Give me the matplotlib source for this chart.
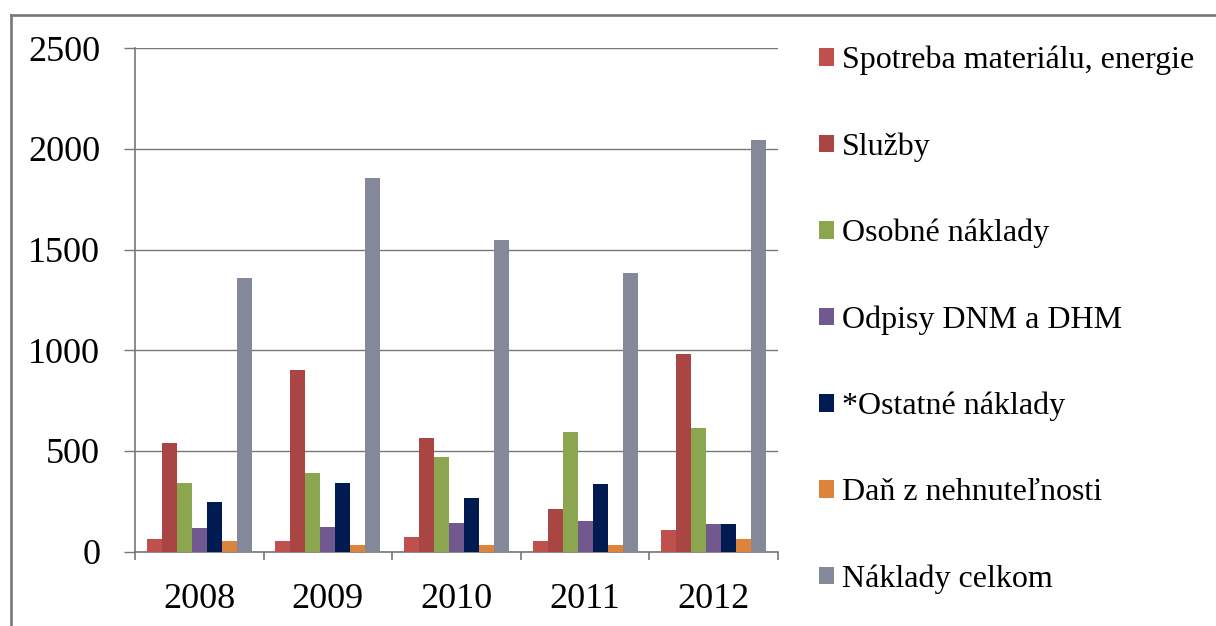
import matplotlib
matplotlib.use('Agg')
import matplotlib.pyplot as plt
import numpy as np
from matplotlib.lines import Line2D

plt.rcParams['font.family'] = ['Liberation Serif', 'DejaVu Serif']

# hodnoty odčítané z grafu
years = ['2008', '2009', '2010', '2011', '2012']
spotreba = [62, 52, 72, 52, 107]
sluzby = [539, 902, 564, 211, 981]
osobne = [340, 390, 470, 594, 614]
odpisy = [117, 122, 142, 152, 137]
ostatne = [246, 340, 266, 335, 137]
dan = [52, 32, 32, 32, 62]
celkom = [1359, 1856, 1550, 1384, 2045]

labels = ['Spotreba materiálu, energie', 'Služby', 'Osobné náklady',
          'Odpisy DNM a DHM', '*Ostatné náklady', 'Daň z nehnuteľnosti',
          'Náklady celkom']
colors = ['#C0504D', '#A94644', '#8BA64E', '#71588F', '#001A52', '#DC843C', '#848899']
series = [spotreba, sluzby, osobne, odpisy, ostatne, dan, celkom]

fig = plt.figure(figsize=(12.16, 6.26), dpi=100)
ax = fig.add_axes([0.1110, 0.1190, 0.6398 - 0.1110, 0.9228 - 0.1190])

x = np.arange(len(years))
n = len(series)
w = 0.8165 / n
for i, (vals, lab, col) in enumerate(zip(series, labels, colors)):
    ax.bar(x + (i - (n - 1) / 2) * w, vals, width=w, color=col, label=lab, zorder=3)

ax.set_xlim(-0.5, len(years) - 0.5)
ax.set_ylim(0, 2500)
ax.set_yticks(range(0, 2501, 500))
ax.grid(axis='y', color='#777777', linewidth=1.0, zorder=0)

ax.set_xticks(x)
ax.set_xticklabels(years)
ax.set_xticks(np.arange(-0.5, len(years), 1), minor=True)
ax.tick_params(axis='x', which='major', length=0, pad=23, labelsize=26)
ax.tick_params(axis='x', which='minor', length=6, width=1.2, color='#777777', direction='out')
ax.tick_params(axis='y', length=8, width=1.0, color='#777777', pad=17, labelsize=26)

for s in ['top', 'right']:
    ax.spines[s].set_visible(False)
for s in ['left', 'bottom']:
    ax.spines[s].set_color('#777777')
    ax.spines[s].set_linewidth(1.2)

fig.legend(loc='upper left', bbox_to_anchor=(0.6735, 0.927), frameon=False,
           fontsize=23, handlelength=0.47, handleheight=0.47, handletextpad=0.25,
           labelspacing=1.785, borderpad=0, borderaxespad=0)

# rámček okolo grafu (vidno len ľavú a hornú stranu)
fig.add_artist(Line2D([11 / 1216, 11 / 1216], [0, 1 - 14.5 / 626], transform=fig.transFigure,
                      color='#777777', linewidth=1.9))
fig.add_artist(Line2D([11 / 1216, 1], [1 - 14.5 / 626, 1 - 14.5 / 626], transform=fig.transFigure,
                      color='#777777', linewidth=1.9))

fig.savefig('out.png', dpi=100)
